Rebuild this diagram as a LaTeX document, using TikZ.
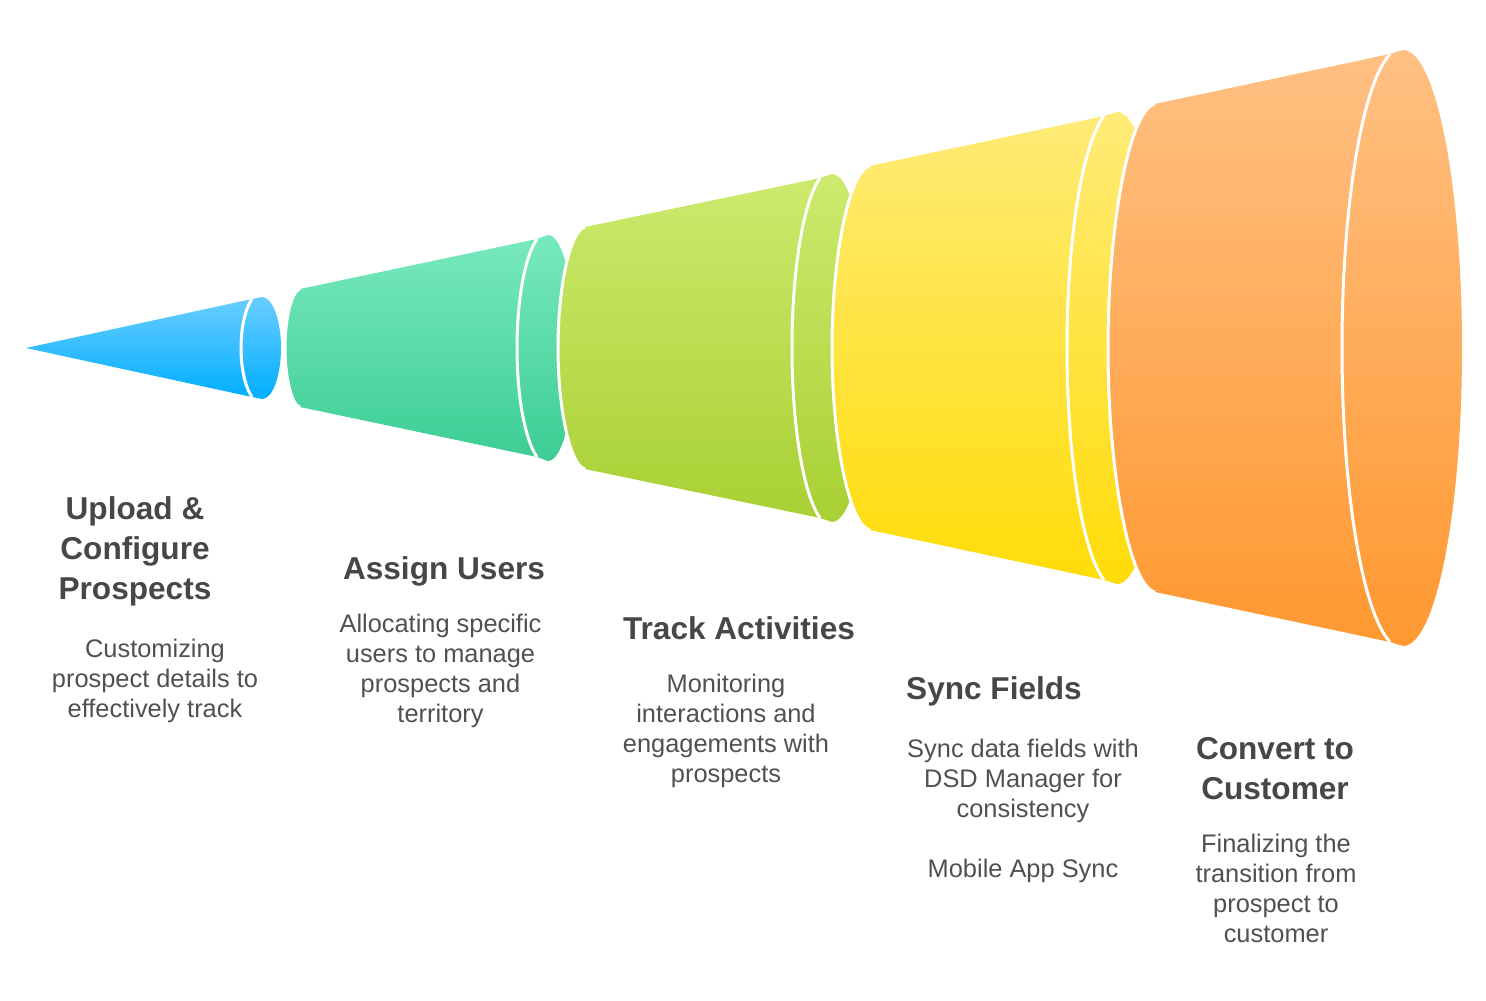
\documentclass[tikz,border=0pt]{standalone}
\usepackage{fontspec}
\setmainfont{Liberation Sans}
\definecolor{blueT}{HTML}{6ACDFF}
\definecolor{blueB}{HTML}{00AEFF}
\definecolor{greenT}{HTML}{78E9BE}
\definecolor{greenB}{HTML}{3CCD94}
\definecolor{limeT}{HTML}{CDEA6E}
\definecolor{limeB}{HTML}{A8D033}
\definecolor{yellowT}{HTML}{FFEB78}
\definecolor{yellowB}{HTML}{FFDC08}
\definecolor{orangeT}{HTML}{FFC083}
\definecolor{orangeB}{HTML}{FF9830}
\definecolor{headcol}{HTML}{474747}
\definecolor{bodycol}{HTML}{505050}
\begin{document}
\begin{tikzpicture}[x = 0.5pt,y = 0.5pt,line join = round,
	headtext/.style = {align = center,text = headcol,font = \fontsize{15.8}{20}\selectfont\bfseries},
	bodytext/.style = {align = center,text = bodycol,font = \fontsize{12.7}{15}\selectfont},
	gapline/.style = {draw = white,line width = 1.5pt}]
	\useasboundingbox (0,-652) rectangle (1486,348);
	%Draw the five cone segments, from small to large
	\foreach \xl/\xc/\hc/\xr/\hr/\cx/\rx/\ry/\xa/\ca/\cb in {
		26/26/0/252/49/262/19/51/241/blueT/blueB,
		285/300/59/537/109/548/27/113/517/greenT/greenB,
		558/585/121/820/170/832/37/174/792/limeT/limeB,
		832/870/182/1104/232/1117/48/236/1067/yellowT/yellowB,
		1108/1155/244/1390/294/1403/59/298/1342/orangeT/orangeB}
	{
		\shade[top color = \ca,bottom color = \cb]
			(\xc,-\hc) .. controls ({\xc-0.53*(\xc-\xl)},{-0.98*\hc}) and (\xl,{-0.52*\hc}) .. (\xl,0)
			.. controls (\xl,{0.52*\hc}) and ({\xc-0.53*(\xc-\xl)},{0.98*\hc}) .. (\xc,\hc)
			-- (\xr,\hr) -- (\cx,\ry) arc[start angle = 90,end angle = -90,x radius = \rx,y radius = \ry]
			-- (\xr,-\hr) -- cycle;
		%White gap in front of the previous segment
		\draw[gapline] (\xc,-\hc) .. controls ({\xc-0.53*(\xc-\xl)},{-0.98*\hc}) and (\xl,{-0.52*\hc}) .. (\xl,0)
			.. controls (\xl,{0.52*\hc}) and ({\xc-0.53*(\xc-\xl)},{0.98*\hc}) .. (\xc,\hc);
		%White rim of the open end
		\pgfmathsetmacro\ang{acos((\cx-\xr)/(\cx-\xa))}
		\draw[gapline] (\xr,\hr) arc[start angle = 180-\ang,end angle = 180+\ang,x radius = \cx-\xa,y radius = \hr/sin(\ang)];
	}
	%Labels under the segments
	\node[headtext] (head1) at (135,-203) {Upload \&\\Configure\\Prospects};
	\node[bodytext] (body1) at (155,-333) {Customizing\\prospect details to\\effectively track};
	\node[headtext] (head2) at (444,-223) {Assign Users};
	\node[bodytext] (body2) at (440.5,-323) {Allocating specific\\users to manage\\prospects and\\territory};
	\node[headtext] (head3) at (739,-280) {Track Activities};
	\node[bodytext] (body3) at (726,-383) {Monitoring\\interactions and\\engagements with\\prospects};
	\node[headtext] (head4) at (994,-343) {Sync Fields};
	\node[bodytext] (body4) at (1023,-463) {Sync data fields with\\DSD Manager for\\consistency\\[15pt]Mobile App Sync};
	\node[headtext] (head5) at (1275,-421) {Convert to\\Customer};
	\node[bodytext] (body5) at (1276,-540) {Finalizing the\\transition from\\prospect to\\customer};
\end{tikzpicture}
\end{document}
